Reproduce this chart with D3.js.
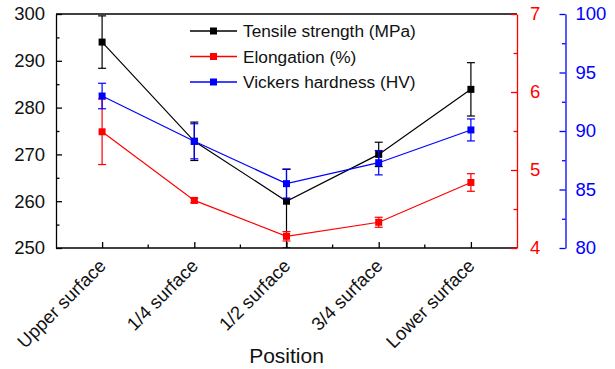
<!DOCTYPE html>
<html>
<head>
<meta charset="utf-8">
<script src="https://cdn.jsdelivr.net/npm/d3@7"></script>
<style>
  html, body { margin: 0; padding: 0; background: #fff; }
  svg { display: block; font-family: "Liberation Sans", Arial, sans-serif; }
</style>
</head>
<body>
<svg id="chart" width="615" height="369"></svg>
<script>
// Sampling positions through the plate thickness
const categories = ["Upper surface", "1/4 surface", "1/2 surface", "3/4 surface", "Lower surface"];

// Tensile strength (MPa) with upper / lower error
const tensile = [294.0, 272.8, 260.0, 270.0, 283.9];
const tensileErrUp = [5.6, 4.1, 6.8, 2.6, 5.7];
const tensileErrDown = [5.6, 4.1, 10.0, 2.6, 5.7];

// Elongation (%)
const elongation = [5.49, 4.61, 4.15, 4.33, 4.84];
const elongationErr = [0.42, 0.03, 0.06, 0.064, 0.113];

// Vickers hardness (HV)
const hardness = [92.99, 89.12, 85.5, 87.29, 90.09];
const hardnessErr = [1.09, 1.5, 1.25, 1.04, 0.94];

// Axis ticks
const leftTicks = [250, 260, 270, 280, 290, 300];
const leftMinor = [255, 265, 275, 285, 295];
const redTicks = [4, 5, 6, 7];
const redMinor = [4.5, 5.5, 6.5];
const blueTicks = [80, 85, 90, 95, 100];
const blueMinor = [82.5, 87.5, 92.5, 97.5];

const legendLabels = ["Tensile strength (MPa)", "Elongation (%)", "Vickers hardness (HV)"];
const xTitle = "Position";

(function draw() {
  const RED = "#ff0000", BLUE = "#0000ff", BLACK = "#000000";

  const svg = d3.select("#chart");
  const pLeft = 56, pRight = 517, pTop = 14, pBottom = 248;
  const blueAxisX = 565.5;

  const x = d3.scalePoint().domain(categories).range([pLeft, pRight]).padding(0.5);
  const yL = d3.scaleLinear().domain([250, 300]).range([pBottom, pTop]);
  const yR = d3.scaleLinear().domain([4, 7]).range([pBottom, pTop]);
  const yB = d3.scaleLinear().domain([80, 100]).range([pBottom, pTop]);

  const tickFont = "18.5px";
  const intFmt = d3.format("d");

  function styleAxis(g, color) {
    g.attr("color", color);
    g.selectAll("path, line").attr("stroke-width", 1.3);
    g.selectAll("text").attr("font-size", tickFont).attr("font-family", "Liberation Sans, Arial, sans-serif");
  }

  // Left axis (tensile strength)
  const gL = svg.append("g").attr("transform", `translate(${pLeft},0)`)
    .call(d3.axisLeft(yL).tickValues(leftTicks).tickFormat(intFmt).tickSize(-6).tickSizeOuter(0).tickPadding(11));
  styleAxis(gL, BLACK);
  gL.selectAll("text").attr("fill", "#111");
  const gLm = svg.append("g").attr("transform", `translate(${pLeft},0)`)
    .call(d3.axisLeft(yL).tickValues(leftMinor).tickSize(-3.5).tickFormat(""));
  gLm.select(".domain").remove();
  styleAxis(gLm, BLACK);

  // Bottom axis with category ticks and minor ticks between them
  const gB = svg.append("g").attr("transform", `translate(0,${pBottom})`)
    .call(d3.axisBottom(x).tickSize(-6).tickSizeOuter(0).tickFormat(""));
  gB.select(".domain").attr("d", `M${pLeft},0H${pRight}`);
  styleAxis(gB, BLACK);
  const mids = d3.pairs(categories).map(([a, b]) => (x(a) + x(b)) / 2);
  svg.append("g").selectAll("line").data(mids).join("line")
    .attr("x1", d => d).attr("x2", d => d)
    .attr("y1", pBottom).attr("y2", pBottom - 3.5)
    .attr("stroke", BLACK).attr("stroke-width", 1.3);

  // Category labels, rotated
  svg.append("g").selectAll("text").data(categories).join("text")
    .attr("transform", d => `translate(${x(d) + 5},${pBottom + 19}) rotate(-45)`)
    .attr("text-anchor", "end")
    .attr("font-size", tickFont)
    .attr("fill", "#111")
    .text(d => d);

  // Top frame line
  svg.append("line")
    .attr("x1", pLeft).attr("x2", pRight).attr("y1", pTop).attr("y2", pTop)
    .attr("stroke", BLACK).attr("stroke-width", 1.3);

  // Right red axis (elongation)
  const gR = svg.append("g").attr("transform", `translate(${pRight},0)`)
    .call(d3.axisRight(yR).tickValues(redTicks).tickFormat(intFmt).tickSize(-6).tickSizeOuter(0).tickPadding(13));
  styleAxis(gR, RED);
  const gRm = svg.append("g").attr("transform", `translate(${pRight},0)`)
    .call(d3.axisRight(yR).tickValues(redMinor).tickSize(-3.5).tickFormat(""));
  gRm.select(".domain").remove();
  styleAxis(gRm, RED);

  // Outer blue axis (hardness)
  const gH = svg.append("g").attr("transform", `translate(${blueAxisX},0)`)
    .call(d3.axisRight(yB).tickValues(blueTicks).tickFormat(intFmt).tickSize(-6).tickSizeOuter(0).tickPadding(10));
  styleAxis(gH, BLUE);
  const gHm = svg.append("g").attr("transform", `translate(${blueAxisX},0)`)
    .call(d3.axisRight(yB).tickValues(blueMinor).tickSize(-3.5).tickFormat(""));
  gHm.select(".domain").remove();
  styleAxis(gHm, BLUE);

  // X axis title
  svg.append("text")
    .attr("x", (pLeft + pRight) / 2).attr("y", 363)
    .attr("text-anchor", "middle")
    .attr("font-size", "21px")
    .attr("fill", "#111")
    .text(xTitle);

  // Series drawing: line, error bars, square markers
  const series = [
    { values: tensile, up: tensileErrUp, down: tensileErrDown, y: yL, color: BLACK },
    { values: elongation, up: elongationErr, down: elongationErr, y: yR, color: RED },
    { values: hardness, up: hardnessErr, down: hardnessErr, y: yB, color: BLUE }
  ];

  const clipId = "plot-clip";
  svg.append("clipPath").attr("id", clipId)
    .append("rect").attr("x", pLeft).attr("y", pTop).attr("width", pRight - pLeft).attr("height", pBottom - pTop);

  const markerSize = 7, capHalf = 4;

  series.forEach(s => {
    const g = svg.append("g").attr("clip-path", `url(#${clipId})`);
    const pts = categories.map((c, i) => ({ c, v: s.values[i], hi: s.values[i] + s.up[i], lo: s.values[i] - s.down[i] }));

    g.append("path")
      .datum(pts)
      .attr("fill", "none")
      .attr("stroke", s.color)
      .attr("stroke-width", 1.2)
      .attr("d", d3.line().x(d => x(d.c)).y(d => s.y(d.v)));

    const eb = g.selectAll(".eb").data(pts).join("g");
    eb.append("line")
      .attr("x1", d => x(d.c)).attr("x2", d => x(d.c))
      .attr("y1", d => s.y(d.hi)).attr("y2", d => s.y(d.lo))
      .attr("stroke", s.color).attr("stroke-width", 1.2);
    eb.append("line")
      .attr("x1", d => x(d.c) - capHalf).attr("x2", d => x(d.c) + capHalf)
      .attr("y1", d => s.y(d.hi)).attr("y2", d => s.y(d.hi))
      .attr("stroke", s.color).attr("stroke-width", 1.2);
    eb.append("line")
      .attr("x1", d => x(d.c) - capHalf).attr("x2", d => x(d.c) + capHalf)
      .attr("y1", d => s.y(d.lo)).attr("y2", d => s.y(d.lo))
      .attr("stroke", s.color).attr("stroke-width", 1.2);

    g.selectAll(".mk").data(pts).join("rect")
      .attr("x", d => x(d.c) - markerSize / 2)
      .attr("y", d => s.y(d.v) - markerSize / 2)
      .attr("width", markerSize).attr("height", markerSize)
      .attr("fill", s.color);
  });

  // Legend
  const legend = svg.append("g");
  const legendRows = [31, 56.5, 82];
  legendLabels.forEach((label, i) => {
    const color = series[i].color;
    const yy = legendRows[i];
    legend.append("line").attr("x1", 190).attr("x2", 237).attr("y1", yy).attr("y2", yy)
      .attr("stroke", color).attr("stroke-width", 1.3);
    legend.append("rect").attr("x", 213.5 - markerSize / 2).attr("y", yy - markerSize / 2)
      .attr("width", markerSize).attr("height", markerSize).attr("fill", color);
    legend.append("text").attr("x", 243).attr("y", yy).attr("dy", "0.35em")
      .attr("font-size", "17.3px").attr("fill", "#111").text(label);
  });
})();
</script>
</body>
</html>
